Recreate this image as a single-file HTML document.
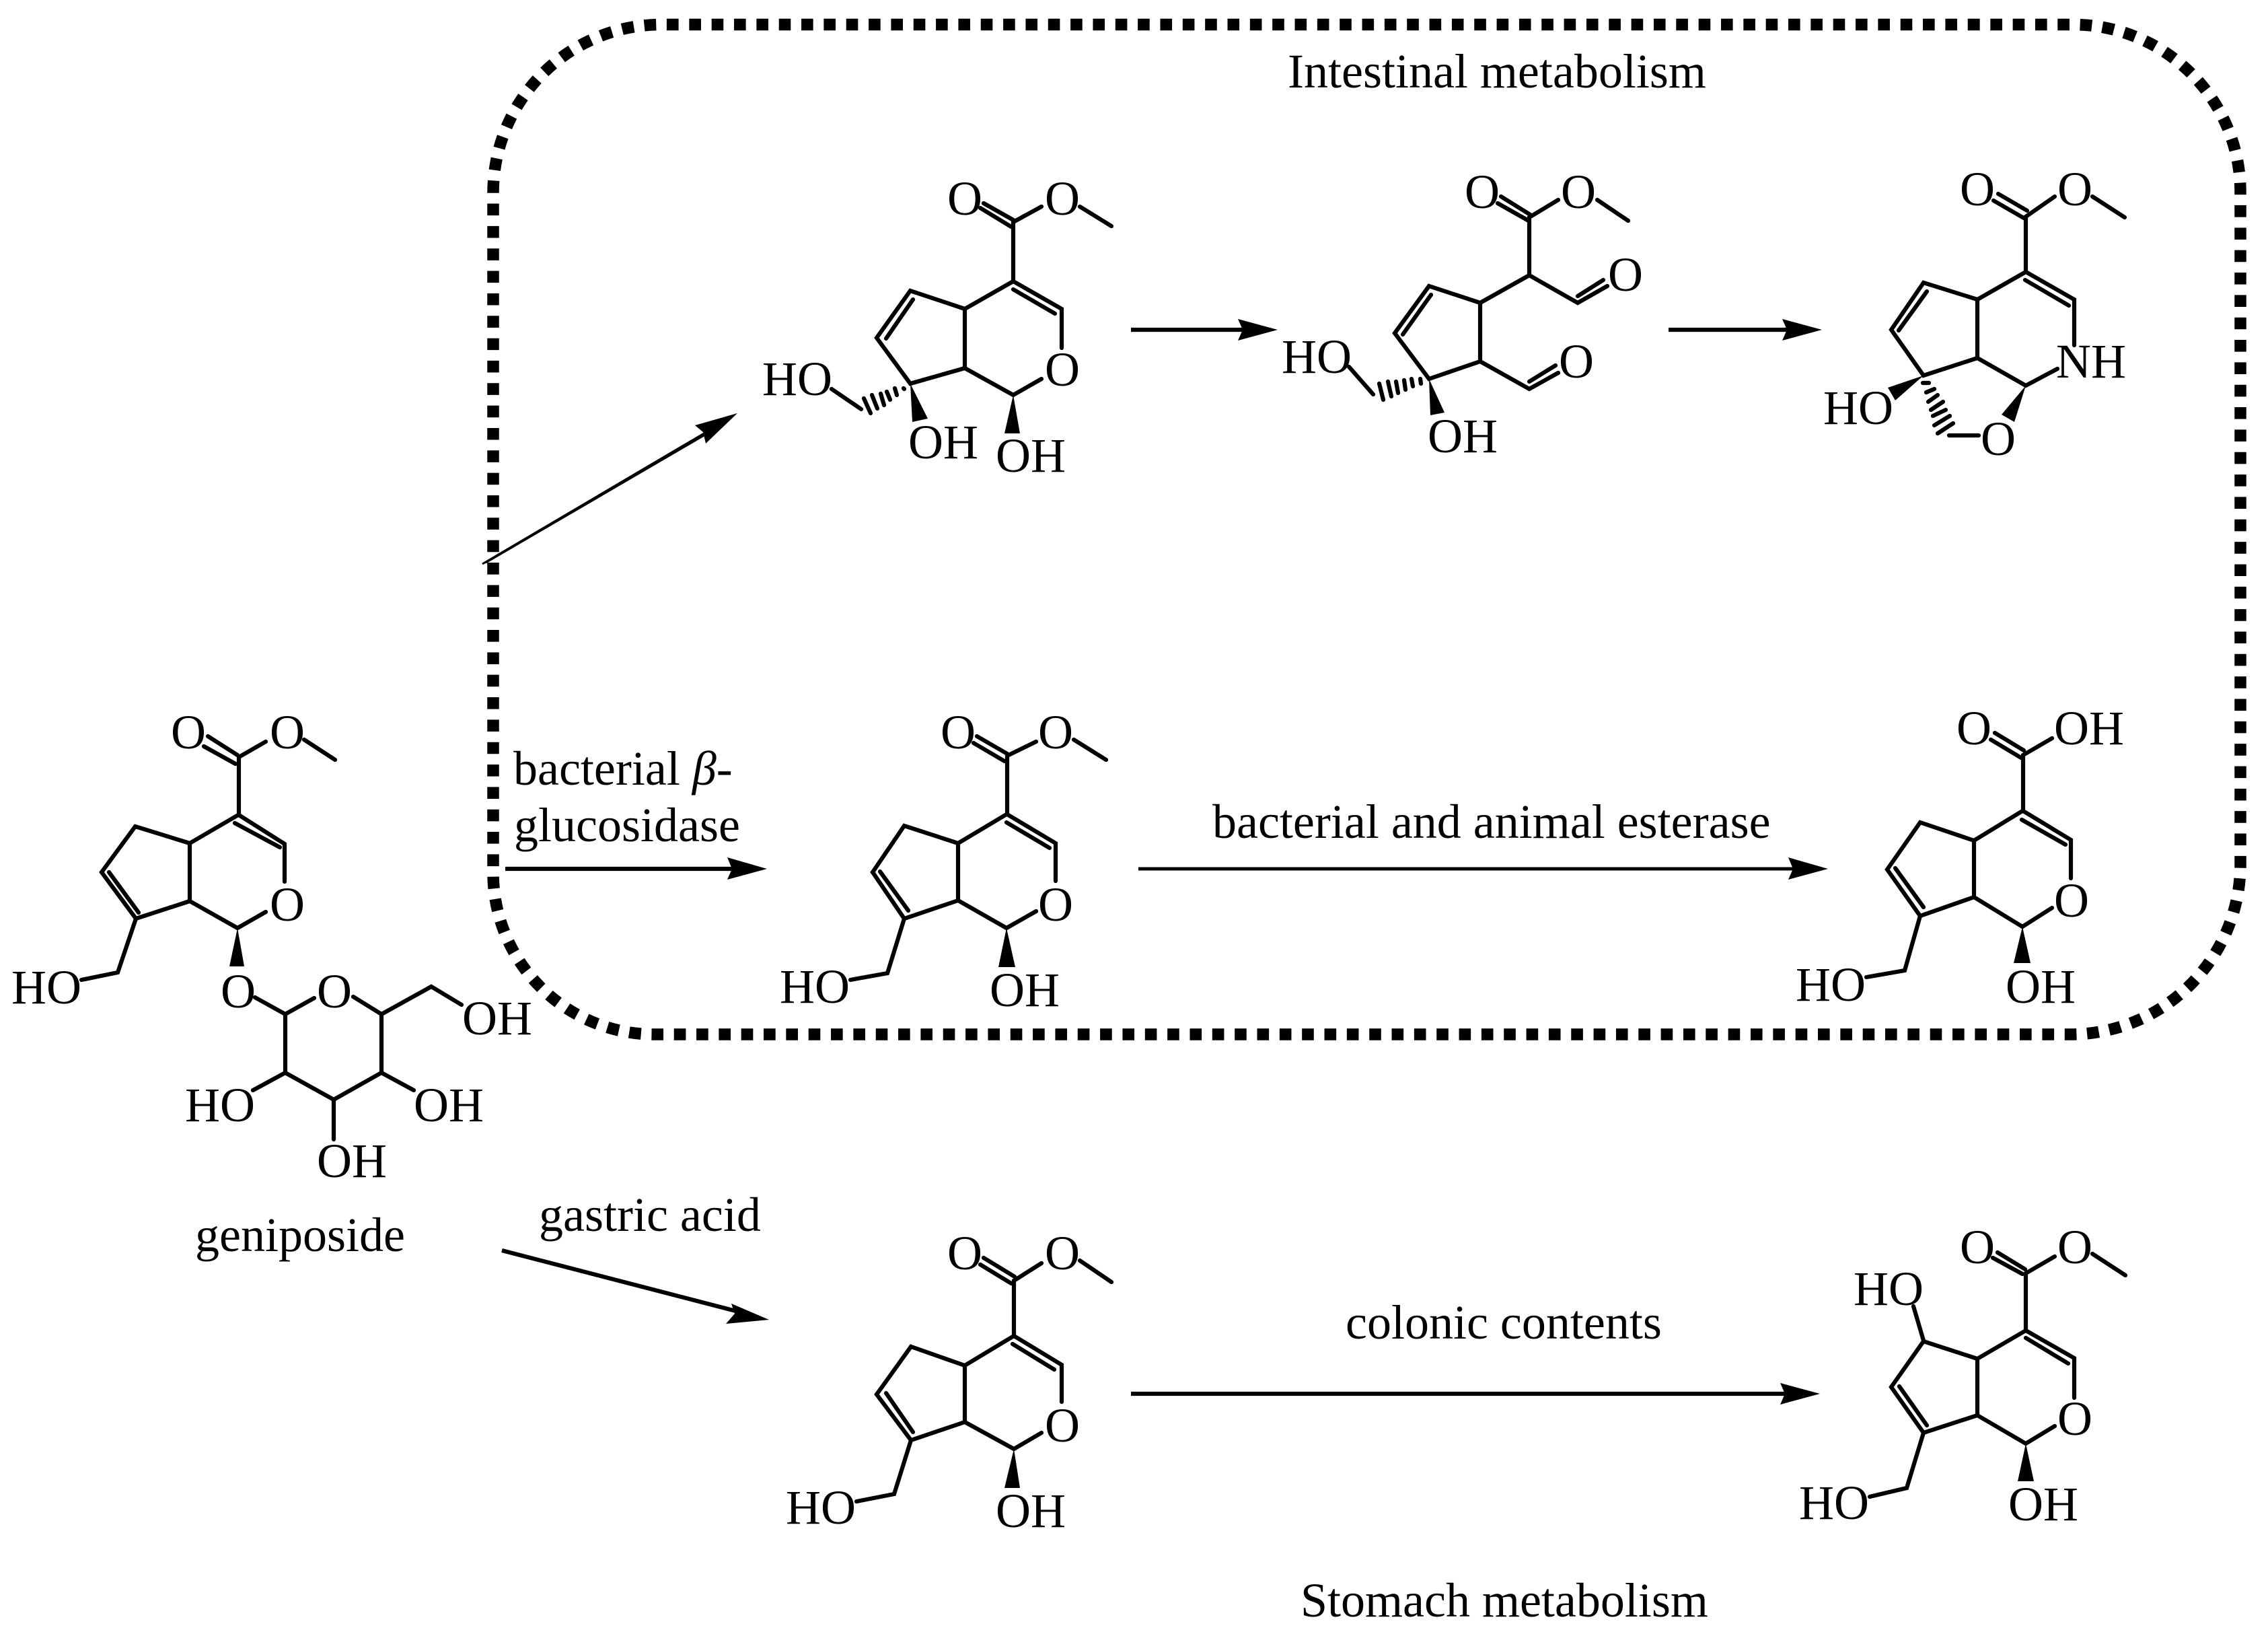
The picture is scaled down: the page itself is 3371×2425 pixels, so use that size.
<!DOCTYPE html>
<html><head><meta charset="utf-8"><style>
html,body{margin:0;padding:0;background:#fff}
svg{display:block}
text{font-family:"Liberation Serif",serif;font-size:72px;fill:#000}
.b{fill:none;stroke:#000;stroke-width:6.2;stroke-linecap:round;stroke-linejoin:miter}
.d{fill:none;stroke:#000;stroke-width:17.5;stroke-linecap:butt}
.a{fill:none;stroke:#000;stroke-width:6.2}
</style></head><body>
<svg width="3371" height="2425" viewBox="0 0 3371 2425" xmlns="http://www.w3.org/2000/svg">
<rect width="3371" height="2425" fill="#fff"/>

<!-- dotted box -->
<path class="d" d="M991,36.5H2925" stroke-dasharray="17.6 15.74"/>
<path class="d" pathLength="1700" stroke-dasharray="53 47" d="M2925,36.5H3081A249,249 0 0 1 3330,285.5V305"/>
<path class="d" d="M3330,305V1272" stroke-dasharray="17.6 15.74"/>
<path class="d" pathLength="1300" stroke-dasharray="53 47" d="M3330,1272V1284A253,253 0 0 1 3077,1537H3053"/>
<path class="d" d="M3053,1537H1186" stroke-dasharray="17.6 15.74"/>
<path class="d" pathLength="1800" stroke-dasharray="53 47" d="M1186,1537H973A240,240 0 0 1 733,1297V1287"/>
<path class="d" d="M733,1287V286" stroke-dasharray="17.6 15.74"/>
<path class="d" pathLength="1200" stroke-dasharray="53 47" d="M733,286A250,250 0 0 1 983,36.5H991"/>

<!-- arrows -->
<path fill="none" stroke="#000" stroke-width="3" d="M717,838L1048,643M722,836L1048,646"/>
<polygon points="1096,614 1033,632 1045,642 1049,659"/>
<path class="a" d="M1681,490H1860"/><polygon points="1899,490 1840,474 1847,490 1840,506"/>
<path class="a" d="M2480,490H2670"/><polygon points="2708,490 2649,474 2656,490 2649,506"/>
<path class="a" d="M751,1291H1090"/><polygon points="1140,1291 1081,1274 1088,1291 1081,1307"/>
<path class="a" style="stroke-width:5" d="M1692,1291H2670"/><polygon points="2717,1291 2658,1274 2665,1291 2658,1307"/>
<path class="a" d="M746,1858L1105,1951"/><polygon points="1143,1961 1087,1937 1092,1952 1079,1967"/>
<path class="a" d="M1681,2071H2660"/><polygon points="2705,2071 2646,2055 2653,2071 2646,2087"/>

<!-- captions -->
<text x="1914" y="130">Intestinal metabolism</text>
<text x="763" y="1166">bacterial <tspan font-style="italic">β</tspan>-</text>
<text x="764" y="1250">glucosidase</text>
<text x="1802" y="1245">bacterial and animal esterase</text>
<text x="801" y="1829">gastric acid</text>
<text x="2000" y="1989">colonic contents</text>
<text x="1933" y="2402">Stomach metabolism</text>
<text x="290" y="1859">geniposide</text>

<!-- geniposide -->
<path class="b" d="M309,1094L353,1122M303,1109L350,1135M395,1102L355,1125V1211L423,1254V1310M349,1223L416,1259M354,1211L282,1253V1339L353,1379L395,1355M282,1253L201,1228L151,1296L202,1365L282,1339M162,1296L206,1356M202,1365L175,1445L121,1456M452,1099L498,1129M379,1482L424,1507L467,1483M525,1481L567,1507L641,1466L686,1493M424,1507V1594L496,1634L567,1594V1507M424,1594L376,1620M567,1594L615,1620M496,1634V1693"/>
<polygon points="353,1379 341,1436 363,1436"/>
<text x="254" y="1112">O</text><text x="401" y="1112">O</text><text x="401" y="1368">O</text>
<text x="17" y="1491">HO</text><text x="328" y="1497">O</text><text x="471" y="1497">O</text>
<text x="687" y="1537">OH</text><text x="275" y="1666">HO</text><text x="615" y="1666">OH</text><text x="471" y="1749">OH</text>

<!-- top 1 -->
<path class="b" d="M1462,302L1508,328M1457,309L1503,337M1548,307L1506,330V418L1578,459V517M1506,430L1568,466M1506,418L1434,459V547L1506,587L1548,563M1434,459L1353,432L1303,502L1353,570L1434,547M1357,445L1317,503M1605,307L1652,336M1280,608L1236,578"/>
<path class="b" d="M1343,577L1344,578M1330,577L1333,587M1318,582L1323,594M1309,585L1314,602M1296,587L1304,607M1284,592L1294,614"/>
<polygon points="1353,570 1356,627 1379,622"/><polygon points="1506,587 1493,644 1516,644"/>
<text x="1408" y="319">O</text><text x="1553" y="319">O</text><text x="1553" y="573">O</text>
<text x="1133" y="587">HO</text><text x="1350" y="681">OH</text><text x="1480" y="701">OH</text>

<!-- top 2 -->
<path class="b" d="M2231,292L2276,320M2226,302L2272,328M2316,297L2273,323V409L2200,450V537L2124,563L2073,495L2124,425L2200,450M2273,409L2345,450L2389,425M2345,440L2383,416M2200,537L2273,578L2316,554M2273,567L2312,543M2127,438L2085,497M2374,297L2420,328M2005,545L2041,586M2111,563L2112,570M2098,563L2100,574M2087,565L2089,579M2075,567L2078,584M2063,567L2068,589M2050,570L2056,594"/>
<polygon points="2124,563 2126,617 2147,613"/>
<text x="2177" y="309">O</text><text x="2320" y="309">O</text><text x="2390" y="432">O</text><text x="2317" y="561">O</text>
<text x="1905" y="554">HO</text><text x="2122" y="672">OH</text>

<!-- top 3 -->
<path class="b" d="M2970,288L3013,313M2963,298L3008,324M3054,292L3011,322V404L3083,445V513M3010,416L3075,454M3011,404L2939,445V532L3011,573L3058,548M2939,445L2859,420L2811,490L2859,558L2939,532M2864,433L2822,491M3110,292L3158,323M2897,647L2941,647M2858,569L2867,569M2863,583L2875,578M2866,597L2880,587M2870,609L2888,597M2873,618L2892,609M2875,632L2898,618M2880,644L2903,629"/>
<polygon points="2859,558 2806,576 2817,595"/><polygon points="3011,573 2975,616 2994,627"/>
<text x="2913" y="305">O</text><text x="3058" y="305">O</text><text x="3056" y="561">NH</text>
<text x="2710" y="630">HO</text><text x="2944" y="676">O</text>

<!-- middle 1 -->
<path class="b" d="M1452,1094L1497,1120M1447,1104L1493,1131M1540,1102L1497,1123V1210L1569,1253V1309M1496,1222L1560,1260M1496,1210L1424,1253V1338L1496,1379L1540,1354M1424,1253L1344,1227L1297,1296L1344,1365L1424,1338M1308,1295L1350,1353M1344,1365L1319,1446L1264,1456M1596,1099L1644,1129"/>
<polygon points="1496,1379 1484,1437 1509,1437"/>
<text x="1398" y="1112">O</text><text x="1543" y="1112">O</text><text x="1543" y="1368">O</text>
<text x="1159" y="1490">HO</text><text x="1471" y="1495">OH</text>

<!-- middle 2 -->
<path class="b" d="M2965,1089L3008,1115M2959,1099L3004,1126M3050,1097L3007,1122V1205L3078,1248V1305M3005,1218L3070,1255M3006,1205L2934,1249V1333L3006,1377L3050,1349M2934,1249L2854,1222L2805,1292L2854,1361L2934,1333M2817,1290L2859,1348M2854,1361L2831,1442L2774,1452"/>
<polygon points="3006,1377 2993,1431 3018,1431"/>
<text x="2908" y="1106">O</text><text x="3053" y="1106">OH</text><text x="3053" y="1362">O</text>
<text x="2669" y="1487">HO</text><text x="2981" y="1490">OH</text>

<!-- bottom 1 -->
<path class="b" d="M1462,1869L1508,1897M1457,1879L1503,1907M1548,1877L1507,1903V1985L1578,2028V2083M1505,1997L1567,2035M1507,1985L1434,2029V2113L1507,2153L1548,2129M1434,2029L1354,2001L1303,2072L1354,2140L1434,2113M1317,2070L1357,2128M1354,2140L1329,2220L1273,2231M1605,1873L1652,1905"/>
<polygon points="1507,2153 1493,2211 1516,2211"/>
<text x="1408" y="1886">O</text><text x="1553" y="1886">O</text><text x="1553" y="2142">O</text>
<text x="1168" y="2264">HO</text><text x="1480" y="2269">OH</text>

<!-- bottom 2 -->
<path class="b" d="M2969,1861L3010,1886M2962,1869L3006,1893M3054,1867L3011,1892V1977L3083,2018V2077M3011,1988L3074,2026M3011,1977L2939,2019V2103L3011,2145L3054,2119M2939,2019L2859,1993L2811,2061L2859,2129L2939,2103M2823,2060L2864,2118M2859,2129L2834,2211L2779,2224M2859,1992L2844,1941M3110,1863L3159,1895"/>
<polygon points="3011,2145 2999,2201 3023,2201"/>
<text x="2913" y="1877">O</text><text x="3058" y="1877">O</text><text x="3058" y="2132">O</text>
<text x="2755" y="1939">HO</text><text x="2674" y="2257">HO</text><text x="2985" y="2259">OH</text>
</svg>
</body></html>
